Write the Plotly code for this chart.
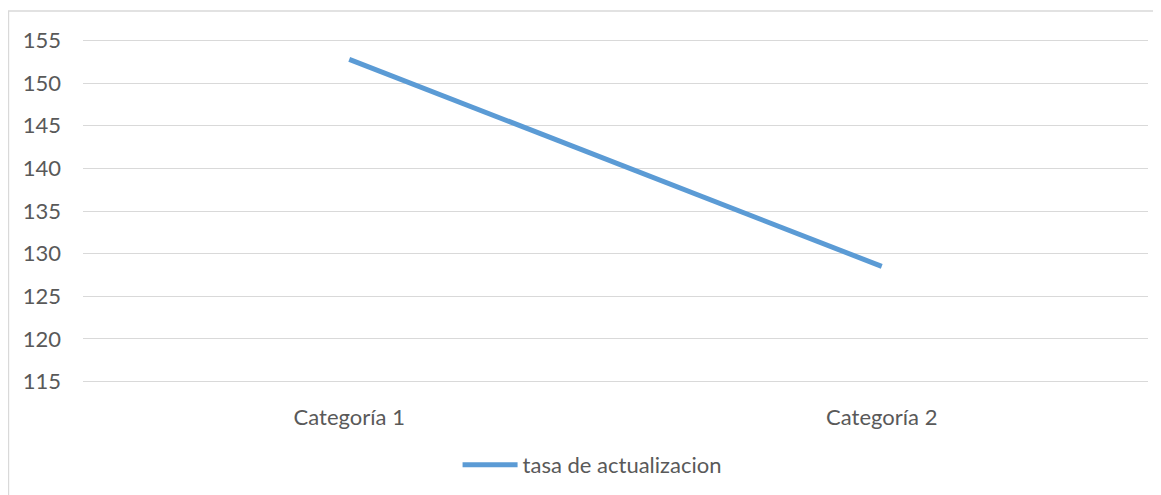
import plotly.graph_objects as go

categorias = ['Categoría 1', 'Categoría 2']
tasa = [152.8, 128.5]
y_ticks = [115, 120, 125, 130, 135, 140, 145, 150, 155]

fig = go.Figure()
fig.add_trace(go.Scatter(
    x=categorias,
    y=tasa,
    mode='lines',
    name='tasa de actualizacion',
    line=dict(color='#5B9BD5', width=5),
))

fig.update_layout(
    width=1161,
    height=495,
    margin=dict(l=75, r=21, t=30, b=119),
    paper_bgcolor='white',
    plot_bgcolor='white',
    font=dict(family='Lato, sans-serif', size=22, color='#595959'),
    showlegend=True,
    legend=dict(
        orientation='h',
        x=0.478, xanchor='center',
        y=-0.234, yanchor='middle',
        font=dict(size=22, color='#595959'),
        itemwidth=55,
    ),
    # outer chart frame
    shapes=[dict(
        type='rect', xref='paper', yref='paper',
        x0=-0.07, x1=1.1, y0=-0.6, y1=1.078,
        line=dict(color='#d9d9d9', width=1.5),
        layer='below',
    )],
)

fig.update_xaxes(
    type='category',
    range=[-0.5, 1.5],
    showgrid=False,
    showline=False,
    zeroline=False,
    ticks='',
    ticklabelstandoff=18,
    automargin=False,
)
fig.update_yaxes(
    range=[114.7, 155.3],
    tickvals=y_ticks,
    showgrid=True,
    gridcolor='#d9d9d9',
    gridwidth=1,
    zeroline=False,
    showline=False,
    ticks='',
    ticklabelstandoff=21,
    automargin=False,
)

fig.write_html("out.html")
